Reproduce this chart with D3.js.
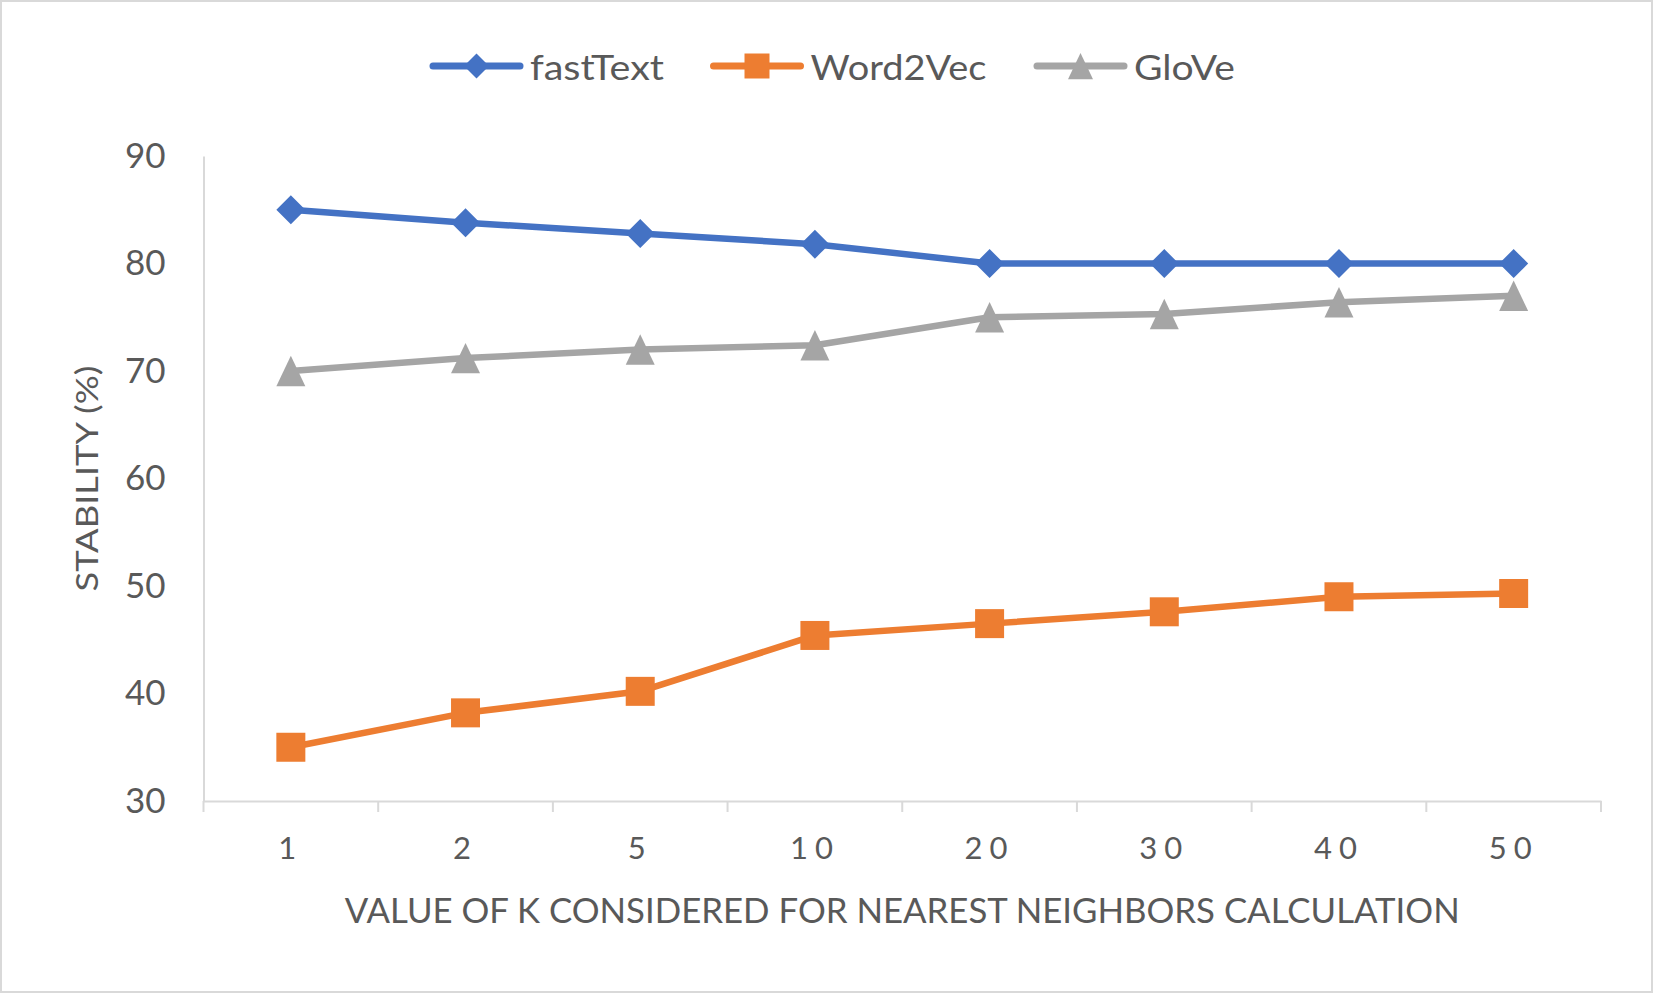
<!DOCTYPE html>
<html>
<head>
<meta charset="utf-8">
<script src="https://cdn.jsdelivr.net/npm/d3@7"></script>
<style>
  html, body { margin: 0; padding: 0; background: #fff; }
  svg { display: block; }
</style>
</head>
<body>
<div id="chart"></div>
<script>
// Stability of nearest neighbours for three embedding methods

const kValues = ["1", "2", "5", "10", "20", "30", "40", "50"];
const fastText = [85, 83.8, 82.8, 81.8, 80, 80, 80, 80];
const word2vec = [35, 38.2, 40.2, 45.4, 46.5, 47.6, 49, 49.3];
const glove = [70, 71.2, 72, 72.4, 75, 75.3, 76.4, 77];
const yTicks = [30, 40, 50, 60, 70, 80, 90];
const seriesNames = ["fastText", "Word2Vec", "GloVe"];

const width = 1653, height = 993;
const margin = { top: 156, right: 52, bottom: 192, left: 203.5 };
const textColor = "#595959";
const gridColor = "#d9d9d9";

const series = [
  { name: seriesNames[0], values: fastText, color: "#4472c4", marker: "diamond" },
  { name: seriesNames[1], values: word2vec, color: "#ed7d31", marker: "square" },
  { name: seriesNames[2], values: glove, color: "#a5a5a5", marker: "triangle" }
];

const svg = d3.select("#chart")
  .append("svg")
  .attr("width", width)
  .attr("height", height)
  .style("font-family", "Lato, 'Open Sans', sans-serif");

// outer chart border
svg.append("rect")
  .attr("x", 1).attr("y", 1)
  .attr("width", width - 2).attr("height", height - 2)
  .attr("fill", "#fff")
  .attr("stroke", gridColor)
  .attr("stroke-width", 2);

const x = d3.scaleBand()
  .domain(kValues)
  .range([margin.left, width - margin.right]);

const y = d3.scaleLinear()
  .domain([30, 90])
  .range([height - margin.bottom, margin.top]);

const cx = d => x(d) + x.bandwidth() / 2;

// marker shapes, s = full size
function markerPath(type, s) {
  const h = s / 2;
  if (type === "diamond") return `M0,${-h}L${h},0L0,${h}L${-h},0Z`;
  if (type === "square") return `M${-h},${-h}H${h}V${h}H${-h}Z`;
  // triangle, a bit taller than wide
  return `M0,${-h * 1.05}L${h},${h * 1.05}L${-h},${h * 1.05}Z`;
}

// y axis
const yAxis = svg.append("g")
  .attr("transform", `translate(${margin.left},0)`)
  .call(d3.axisLeft(y).tickValues(yTicks).tickSize(0).tickSizeOuter(0).tickPadding(38));
yAxis.select(".domain").attr("stroke", gridColor).attr("stroke-width", 2);
yAxis.selectAll("text")
  .attr("fill", textColor)
  .attr("font-size", 35)
  .attr("font-family", "Lato, sans-serif");

// x axis
const xAxis = svg.append("g")
  .attr("transform", `translate(0,${height - margin.bottom})`)
  .call(d3.axisBottom(x).tickSize(0).tickSizeOuter(0).tickPadding(36));
xAxis.select(".domain").attr("stroke", gridColor).attr("stroke-width", 2);
xAxis.selectAll("text")
  .attr("fill", textColor)
  .attr("font-size", 31)
  .attr("font-family", "Lato, sans-serif")
  .style("letter-spacing", "7px");

// tick marks sit between categories
const edges = kValues.map(d => x(d)).concat([x.range()[1]]);
xAxis.selectAll("line.edge")
  .data(edges)
  .enter().append("line")
  .attr("class", "edge")
  .attr("x1", d => d).attr("x2", d => d)
  .attr("y1", 0).attr("y2", 11)
  .attr("stroke", gridColor)
  .attr("stroke-width", 2);

// axis titles
svg.append("text")
  .attr("x", (margin.left + width - margin.right) / 2)
  .attr("y", 909)
  .attr("text-anchor", "middle")
  .attr("dominant-baseline", "central")
  .attr("fill", textColor)
  .attr("font-size", 35)
  .attr("textLength", 1115)
  .attr("lengthAdjust", "spacingAndGlyphs")
  .text("VALUE OF K CONSIDERED FOR NEAREST NEIGHBORS CALCULATION");

svg.append("text")
  .attr("transform", `translate(86,${(margin.top + height - margin.bottom) / 2}) rotate(-90)`)
  .attr("text-anchor", "middle")
  .attr("dominant-baseline", "central")
  .attr("fill", textColor)
  .attr("font-size", 31)
  .attr("textLength", 226)
  .attr("lengthAdjust", "spacingAndGlyphs")
  .text("STABILITY (%)");

// lines and markers
const line = d3.line()
  .x((d, i) => cx(kValues[i]))
  .y(d => y(d));

const lines = svg.append("g");
series.forEach(s => {
  lines.append("path")
    .datum(s.values)
    .attr("fill", "none")
    .attr("stroke", s.color)
    .attr("stroke-width", 6.5)
    .attr("stroke-linejoin", "round")
    .attr("d", line);
});
series.forEach(s => {
  lines.append("g")
    .selectAll("path")
    .data(s.values)
    .enter().append("path")
    .attr("transform", (d, i) => `translate(${cx(kValues[i])},${y(d)})`)
    .attr("d", markerPath(s.marker, 29))
    .attr("fill", s.color);
});

// legend
const legendX = [430, 710.5, 1034];
const legendY = 66;
const legendText = [134, 176, 101];
const legend = svg.append("g");
series.forEach((s, i) => {
  const g = legend.append("g").attr("transform", `translate(${legendX[i]},${legendY})`);
  g.append("line")
    .attr("x1", 3).attr("x2", 90)
    .attr("stroke", s.color)
    .attr("stroke-width", 7)
    .attr("stroke-linecap", "round");
  g.append("path")
    .attr("transform", "translate(46.5,0)")
    .attr("d", markerPath(s.marker, 25))
    .attr("fill", s.color);
  g.append("text")
    .attr("x", 100)
    .attr("dominant-baseline", "central")
    .attr("fill", textColor)
    .attr("font-size", 35)
    .attr("textLength", legendText[i])
    .attr("lengthAdjust", "spacingAndGlyphs")
    .text(s.name);
});
</script>
</body>
</html>
